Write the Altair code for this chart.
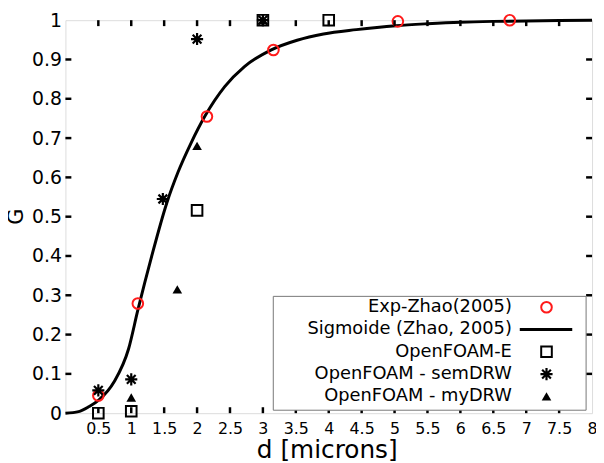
import altair as alt
import pandas as pd

# ---- data ----
zhao_x = [0.5, 1.1, 2.15, 3.16, 5.05, 6.75]
zhao_y = [0.045, 0.279, 0.755, 0.924, 0.997, 1.0]

sig_x = [0, 0.2, 0.36, 0.51, 0.74, 0.96, 1.1, 1.31, 1.54, 1.71, 1.91, 2.12, 2.42, 2.72,
         3.12, 3.52, 3.92, 4.42, 5.02, 5.5, 6.0, 6.5, 7.0, 8.0]
sig_y = [0, 0.004, 0.017, 0.034, 0.08, 0.164, 0.262, 0.399, 0.535, 0.613, 0.688, 0.756, 0.831, 0.882,
         0.924, 0.949, 0.965, 0.976, 0.986, 0.991, 0.995, 0.997, 0.998, 1.0]

ofE_x = [0.5, 1.0, 2.0, 3.0, 4.0]
ofE_y = [0.0, 0.005, 0.516, 1.0, 1.0]

sem_x = [0.5, 1.0, 1.48, 2.0, 3.0]
sem_y = [0.058, 0.086, 0.545, 0.952, 1.0]

my_x = [1.0, 1.7, 2.0, 3.0]
my_y = [0.04, 0.315, 0.68, 1.0]

x_ticks = [0.5, 1, 1.5, 2, 2.5, 3, 3.5, 4, 4.5, 5, 5.5, 6, 6.5, 7, 7.5, 8]
y_ticks = [0, 0.1, 0.2, 0.3, 0.4, 0.5, 0.6, 0.7, 0.8, 0.9, 1.0]

legend_labels = ["Exp-Zhao(2005)", "Sigmoide (Zhao, 2005)", "OpenFOAM-E",
                 "OpenFOAM - semDRW", "OpenFOAM - myDRW"]

W, H = 532, 397
FONT = "DejaVu Sans"
STAR = "M -1 0 L 1 0 M 0 -1 L 0 1 M -0.72 -0.72 L 0.72 0.72 M -0.72 0.72 L 0.72 -0.72"

xs = alt.Scale(domain=[0, 8], nice=False, zero=False)
ys = alt.Scale(domain=[0, 1], nice=False, zero=False)

AX_X = alt.Axis(values=x_ticks, ticks=False, domain=False, grid=False,
                labelFont=FONT, labelFontSize=16, labelColor="black",
                labelPadding=8, labelFlush=False, labelOverlap=False,
                labelBound=False, format="~g",
                title="d [microns]", titleFont=FONT, titleFontSize=25,
                titleFontWeight="normal", titleColor="black",
                titleX=264, titleY=45, titleBaseline="alphabetic")
AX_Y = alt.Axis(values=y_ticks, ticks=False, domain=False, grid=False,
                labelFont=FONT, labelFontSize=19, labelColor="black",
                labelPadding=4, labelFlush=False, labelOverlap=False,
                labelBound=False, format="~g",
                title="G", titleFont=FONT, titleFontSize=21,
                titleFontWeight="normal", titleColor="black",
                titleX=-49, titleY=198, titleAngle=-90,
                titleBaseline="middle", titleAlign="center")

def XE(f):
    return alt.X(f"{f}:Q", scale=xs, axis=AX_X, title="d [microns]")

def YE(f):
    return alt.Y(f"{f}:Q", scale=ys, axis=AX_Y, title="G")

def df(x, y):
    return pd.DataFrame({"d": x, "G": y})

mark_styles = {
    "zhao": dict(shape="circle", filled=False, stroke="#ff1a1a", strokeWidth=2, size=115, opacity=1),
    "ofE": dict(shape="square", filled=False, stroke="black", strokeWidth=2, size=115, opacity=1),
    "sem": dict(shape=STAR, filled=False, stroke="black", strokeWidth=2.2, size=150, opacity=1),
    "my": dict(shape="triangle-up", filled=True, color="black", size=95, opacity=1),
}

curve = alt.Chart(df(sig_x, sig_y)).mark_line(color="black", strokeWidth=3,
                                                interpolate="monotone").encode(x=XE("d"), y=YE("G"))

pts = [alt.Chart(df(x, y)).mark_point(**mark_styles[k]).encode(x=XE("d"), y=YE("G"))
       for k, x, y in [("zhao", zhao_x, zhao_y), ("ofE", ofE_x, ofE_y),
                       ("sem", sem_x, sem_y), ("my", my_x, my_y)]]

# inward ticks on all four sides
xt = pd.DataFrame({"d": [v for v in x_ticks if v < 8]})
yt = pd.DataFrame({"G": [v for v in y_ticks if 0 < v < 1]})
tick_style = dict(color="black", strokeWidth=2.5)
ticks = [
    alt.Chart(xt).mark_rule(**tick_style).encode(x=XE("d"), y=alt.value(H), y2=alt.value(H - 6)),
    alt.Chart(xt).mark_rule(**tick_style).encode(x=XE("d"), y=alt.value(0), y2=alt.value(6)),
    alt.Chart(yt).mark_rule(**tick_style).encode(y=YE("G"), x=alt.value(0), x2=alt.value(6)),
    alt.Chart(yt).mark_rule(**tick_style).encode(y=YE("G"), x=alt.value(W), x2=alt.value(W - 6)),
]

# legend (manual, text right-aligned with symbols on the right)
leg_top, leg_step = 290, 22.5
one = pd.DataFrame({"a": [0]})
legend_layers = [alt.Chart(one).mark_rect(fill="white", stroke="#777777", strokeWidth=1).encode(
    x=alt.value(210), x2=alt.value(526), y=alt.value(279), y2=alt.value(394))]
sym_keys = ["zhao", None, "ofE", "sem", "my"]
for i, lab in enumerate(legend_labels):
    yy = leg_top + i * leg_step
    legend_layers.append(
        alt.Chart(pd.DataFrame({"label": [lab]})).mark_text(
            align="right", baseline="middle", font=FONT, fontSize=18, color="black").encode(
            x=alt.value(451), y=alt.value(yy), text="label:N"))
    if sym_keys[i] is None:
        legend_layers.append(alt.Chart(one).mark_rule(color="black", strokeWidth=3).encode(
            x=alt.value(459), x2=alt.value(512), y=alt.value(yy)))
    else:
        legend_layers.append(alt.Chart(one).mark_point(**mark_styles[sym_keys[i]]).encode(
            x=alt.value(486), y=alt.value(yy)))

chart = alt.layer(
    curve, *pts, *ticks, *legend_layers
).properties(
    width=W, height=H,
    autosize=alt.AutoSizeParams(type="none"),
    padding={"left": 58, "top": 10, "right": 4, "bottom": 46},
).configure_view(
    stroke="black", strokeWidth=3
).configure(background="white")

chart.save("out.html", embed_options={"renderer": "svg", "actions": False})
